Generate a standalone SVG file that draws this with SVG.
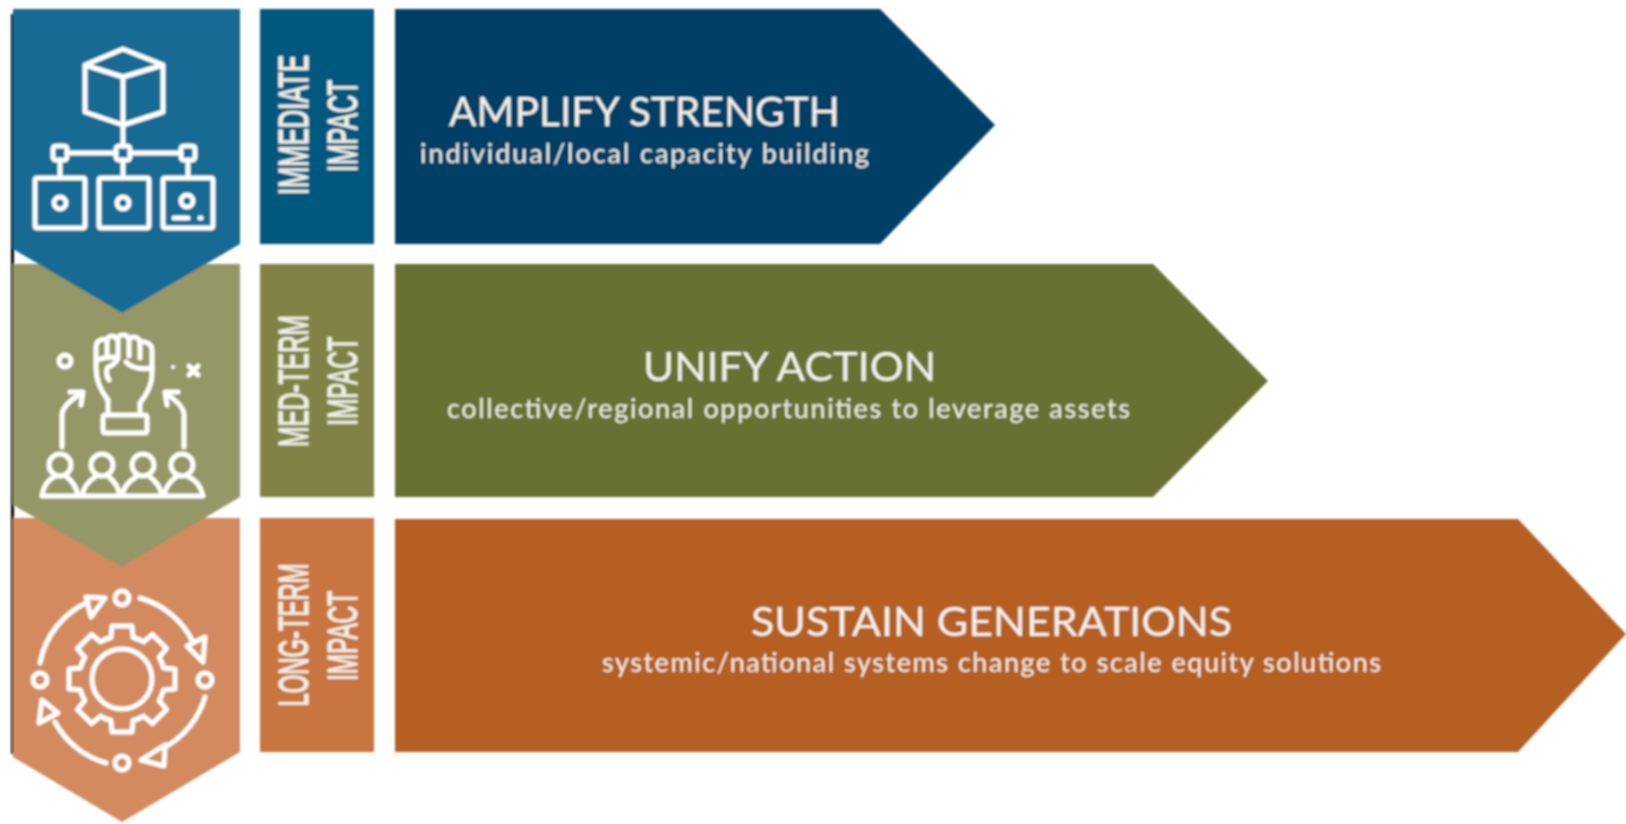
<svg xmlns="http://www.w3.org/2000/svg" width="1626" height="824" viewBox="0 0 1626 824">
<style>
.ic{fill:none;stroke:#fff;stroke-width:5;stroke-linejoin:round;stroke-linecap:round}
.icf{fill:#fff}
.h{font-family:Lato,"Open Sans","Liberation Sans",sans-serif;font-size:40px;fill:#f3f1ea;text-anchor:start}
.s{font-family:Lato,"Open Sans","Liberation Sans",sans-serif;font-size:27px;fill:#f1efe6;text-anchor:start}
.v{font-family:"Liberation Sans Narrow","Liberation Sans",sans-serif;font-size:43px;fill:#f1efe6;stroke:#f1efe6;stroke-width:1.3;text-anchor:middle}
</style>
<defs>
<filter id="soft" x="-2%" y="-2%" width="104%" height="104%"><feGaussianBlur stdDeviation="0.8"/></filter>
<path id="tooth" d="M-16.5,-39.7L-11,-41.5L-10,-53H10L11,-41.5L16.5,-39.7"/>
</defs>
<rect width="1626" height="824" fill="#fff"/>
<g filter="url(#soft)">
<rect x="11" y="14" width="3" height="740" fill="#000"/>
<g id="arrow-immediate"><path d="M395,9H880L995,125L880,244H395Z" fill="#003f66"/>
<text class="h" x="449" y="126" textLength="391" lengthAdjust="spacingAndGlyphs">AMPLIFY STRENGTH</text>
<text class="s" x="420" y="163" textLength="449" lengthAdjust="spacing">individual/local capacity building</text></g>
<g id="arrow-med"><path d="M395,264H1153L1268,381L1153,497H395Z" fill="#6b7033"/>
<text class="h" x="643" y="381" textLength="293" lengthAdjust="spacingAndGlyphs">UNIFY ACTION</text>
<text class="s" x="447" y="418" textLength="683" lengthAdjust="spacing">collective/regional opportunities to leverage assets</text></g>
<g id="arrow-long"><path d="M395,519H1518L1626,634L1518,752H395Z" fill="#b55f24"/>
<text class="h" x="751" y="636" textLength="481" lengthAdjust="spacingAndGlyphs">SUSTAIN GENERATIONS</text>
<text class="s" x="602" y="672" textLength="779" lengthAdjust="spacing">systemic/national systems change to scale equity solutions</text></g>
<g id="label-immediate"><rect x="260" y="9" width="114" height="235" fill="#05597f"/>
<text class="v" transform="translate(308,125) rotate(-90)" textLength="140" lengthAdjust="spacingAndGlyphs">IMMEDIATE</text>
<text class="v" transform="translate(357,126) rotate(-90)" textLength="92" lengthAdjust="spacingAndGlyphs">IMPACT</text></g>
<g id="label-med"><rect x="260" y="264" width="114" height="233" fill="#808345"/>
<text class="v" transform="translate(308,381) rotate(-90)" textLength="132" lengthAdjust="spacingAndGlyphs">MED-TERM</text>
<text class="v" transform="translate(357,381) rotate(-90)" textLength="89" lengthAdjust="spacingAndGlyphs">IMPACT</text></g>
<g id="label-long"><rect x="260" y="518" width="114" height="234" fill="#c87440"/>
<text class="v" transform="translate(308,635) rotate(-90)" textLength="143" lengthAdjust="spacingAndGlyphs">LONG-TERM</text>
<text class="v" transform="translate(357,636) rotate(-90)" textLength="90" lengthAdjust="spacingAndGlyphs">IMPACT</text></g>
<g id="chevron-long"><path d="M13,518H240V752L122,822L13,757Z" fill="#d38a5e"/>
<g class="ic"><g transform="translate(122,679)">
<circle r="30"/>
<use href="#tooth"/><use href="#tooth" transform="rotate(45)"/><use href="#tooth" transform="rotate(90)"/><use href="#tooth" transform="rotate(135)"/><use href="#tooth" transform="rotate(180)"/><use href="#tooth" transform="rotate(225)"/><use href="#tooth" transform="rotate(270)"/><use href="#tooth" transform="rotate(315)"/>
</g>
<circle cx="122" cy="598" r="7"/><circle cx="205" cy="680" r="7"/><circle cx="40" cy="680" r="7"/><circle cx="122" cy="763" r="7"/>
<path d="M140,598A84,84 0 0 1 192,640"/><path d="M205,697A84,84 0 0 1 165,747"/><path d="M106,763A84,84 0 0 1 55,722"/><path d="M40,663A84,84 0 0 1 88,602"/>
<path d="M86,597L105,598L91,617Z"/><path d="M205,637L203,662L187,646Z"/><path d="M141,760L165,745L164,766Z"/><path d="M39,723L42,700L58,713Z"/>
</g></g>
<g id="chevron-med"><path d="M13,264H240V497L122,567L13,505Z" fill="#969766"/>
<g class="ic">
<circle cx="65" cy="361" r="6"/>
<path d="M108,400C100,390 96,380 96,368V347C96,340 103,338 107,340C108,335 114,335 117,339C119,334 126,333 129,339C133,336 138,336 140,342C146,341 152,344 152,350V372C152,385 148,392 140,403"/>
<path d="M111,366C105,366 106,376 109,380M97,360C102,358 110,356 118,358C116,364 112,364 111,366M107,340V354M118,339V356M129,339V356M140,342V358M152,368C140,370 132,368 126,362"/>
<path d="M108,400V412M140,403V412"/><rect x="103" y="415" width="44" height="18" rx="2"/>
<path d="M62,447V415Q62,405 82,393M70,392L83,392L81,405M184,447V415Q184,405 165,393M178,392L165,392L167,405"/>
<path d="M189,366L198,375M198,366L189,375"/>
<circle cx="60" cy="465" r="11"/><circle cx="102" cy="465" r="11"/><circle cx="143" cy="465" r="11"/><circle cx="182" cy="465" r="11"/>
<path d="M42,496Q44,482 54,477M78,496Q76,484 67,477M82,496Q84,484 95,477M120,496Q118,484 109,477M122,496Q124,484 136,477M162,496Q160,484 150,477M164,496Q166,484 176,477M203,496Q200,482 189,477M42,496H203"/>
</g>
<circle cx="173" cy="367" r="2" class="icf"/></g>
<g id="chevron-immediate"><path d="M13,9H240V244L122,313L13,249Z" fill="#176a93"/>
<g class="ic">
<path d="M123,49L163,65V112L123,125L85,112V65ZM85,65L123,77L163,65M123,77V146M123,160V178M60,160V178M188,160V178M67,153H116M130,153H181"/>
<rect x="53" y="146" width="14" height="14" rx="3"/><rect x="116" y="146" width="14" height="14" rx="3"/><rect x="181" y="146" width="14" height="14" rx="3"/>
<rect x="35" y="178" width="50" height="50" rx="2"/><rect x="99" y="178" width="50" height="50" rx="2"/><rect x="163" y="178" width="50" height="50" rx="2"/>
<circle cx="60" cy="203" r="6"/><circle cx="123" cy="203" r="6"/><circle cx="187" cy="201" r="6"/><path d="M174,218H188"/><path d="M200,218h1"/>
</g></g>
</g>
</svg>
